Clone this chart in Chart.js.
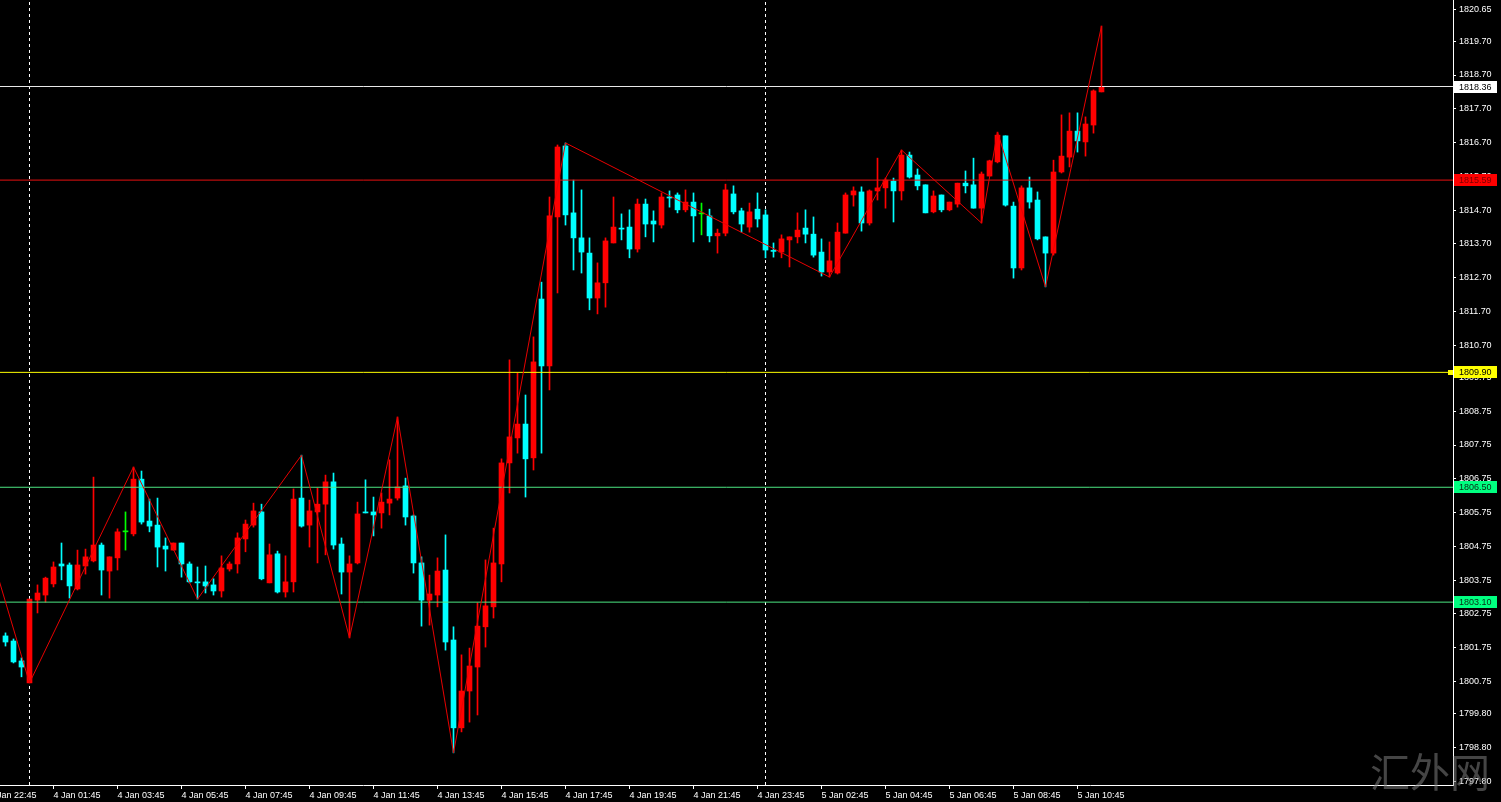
<!DOCTYPE html>
<html><head><meta charset="utf-8">
<style>html,body{margin:0;padding:0;background:#000;overflow:hidden}canvas{display:block}</style>
<script src="https://cdn.jsdelivr.net/npm/chart.js@4.4.1/dist/chart.umd.min.js"></script>
</head><body>
<canvas id="c" width="1501" height="802"></canvas>
<script>
// ---- data (15-minute XAUUSD bars; bar index 0 = 4 Jan 01:00) ----
const FIRST_BAR = -3;
const opens = [1802.10,1801.95,1801.36,
1800.71,1803.16,1803.31,1803.64,1804.23,1804.20,1803.49,1804.17,1804.32,1804.79,
1804.02,1804.41,1805.18,1805.12,1806.74,1805.50,1805.38,1804.76,1804.64,1804.85,
1804.23,1803.70,1803.70,1803.61,1803.43,1804.08,1804.23,1804.97,1805.38,1805.77,
1803.67,1804.53,1803.40,1803.70,1806.18,1805.38,1805.77,1806.00,1806.66,1804.82,
1803.99,1804.26,1805.77,1805.77,1805.74,1806.03,1806.18,1806.54,1805.65,1804.26,
1803.16,1803.31,1804.05,1801.98,1799.38,1800.47,1801.18,1802.37,1802.96,1804.23,
1807.22,1807.96,1808.37,1807.37,1812.07,1810.09,1814.50,1816.60,1814.62,1813.88,
1813.43,1812.10,1812.55,1813.73,1814.17,1814.20,1813.55,1814.88,1814.38,1814.26,
1815.09,1815.15,1814.71,1814.94,1814.59,1814.53,1813.94,1814.02,1815.18,1814.68,
1814.20,1814.73,1814.56,1813.51,1813.46,1813.82,1813.91,1814.17,1813.99,1813.46,
1812.87,1812.84,1814.02,1815.15,1815.24,1814.32,1815.27,1815.36,1815.56,1815.27,
1816.33,1815.74,1815.45,1814.65,1815.15,1814.71,1814.88,1815.50,1815.45,1814.76,
1815.71,1816.13,1816.90,1814.82,1812.99,1815.36,1815.00,1813.91,1813.43,1815.83,
1816.27,1817.04,1816.72,1817.22,1818.20];
const highs = [1802.19,1802.01,1801.45,
1803.19,1803.61,1803.84,1804.29,1804.85,1804.26,1804.64,1804.67,1806.80,1804.85,
1804.44,1805.27,1805.77,1807.10,1806.98,1806.15,1806.18,1805.00,1804.85,1804.85,
1804.29,1804.14,1804.17,1803.79,1804.47,1804.29,1805.15,1805.53,1806.03,1806.00,
1804.82,1804.61,1804.47,1806.45,1807.45,1806.12,1806.48,1806.86,1806.92,1805.00,
1804.47,1806.06,1806.72,1806.21,1806.33,1807.31,1808.58,1806.77,1805.68,1804.44,
1803.90,1804.41,1805.09,1802.37,1801.54,1801.74,1803.08,1804.35,1805.29,1807.34,
1810.27,1809.88,1809.23,1810.95,1812.57,1815.09,1816.63,1816.69,1815.59,1815.30,
1813.88,1813.14,1813.88,1815.09,1814.59,1814.71,1815.03,1815.03,1814.68,1815.21,
1815.27,1815.21,1815.30,1815.21,1814.91,1814.73,1814.14,1815.47,1815.42,1814.76,
1814.91,1815.21,1814.71,1813.73,1813.97,1813.91,1814.62,1814.71,1814.50,1813.85,
1813.76,1814.32,1815.21,1815.39,1815.39,1815.30,1816.24,1815.65,1815.65,1816.48,
1816.42,1815.92,1815.45,1815.27,1815.15,1814.94,1815.50,1815.86,1816.24,1815.83,
1816.18,1817.01,1816.90,1814.94,1815.42,1815.68,1815.24,1813.91,1816.18,1817.52,
1817.58,1817.58,1817.46,1818.26,1820.15];
const lows = [1801.80,1801.30,1800.89,
1800.71,1802.78,1803.10,1803.55,1803.76,1803.22,1803.46,1803.93,1804.29,1803.31,
1803.22,1804.05,1804.64,1805.06,1805.41,1805.18,1804.14,1804.02,1804.64,1803.84,
1803.67,1803.19,1803.37,1803.31,1803.25,1804.02,1803.96,1804.59,1805.32,1803.76,
1803.67,1803.37,1803.25,1803.40,1805.32,1804.73,1804.26,1804.50,1804.67,1803.34,
1802.04,1804.23,1805.74,1805.06,1805.29,1805.68,1806.12,1805.38,1803.96,1802.39,
1802.42,1802.96,1801.68,1798.64,1799.26,1799.55,1799.76,1801.77,1802.63,1803.70,
1806.33,1807.51,1806.21,1807.01,1807.51,1809.38,1812.25,1814.26,1812.93,1812.84,
1811.75,1811.63,1811.83,1813.73,1813.82,1813.29,1813.46,1813.91,1813.76,1814.17,
1814.79,1814.62,1814.65,1813.76,1813.97,1813.76,1813.43,1813.94,1814.59,1814.05,
1814.05,1814.20,1813.29,1813.31,1813.29,1813.02,1813.73,1813.73,1813.31,1812.75,
1812.72,1812.81,1814.02,1814.82,1814.08,1814.26,1815.00,1814.76,1814.35,1815.00,
1815.65,1815.30,1814.62,1814.62,1814.65,1814.68,1814.79,1815.21,1814.76,1814.32,
1815.71,1816.10,1814.82,1812.69,1812.93,1814.76,1813.82,1812.43,1813.37,1815.80,
1815.98,1816.42,1816.30,1816.98,1818.20];
const closes = [1801.92,1801.33,1801.18,
1803.19,1803.37,1803.81,1804.14,1804.17,1803.58,1804.20,1804.44,1804.79,1804.05,
1804.44,1805.18,1805.18,1806.74,1805.47,1805.35,1804.73,1804.67,1804.85,1804.23,
1803.70,1803.67,1803.58,1803.43,1804.11,1804.23,1805.00,1805.41,1805.80,1803.79,
1804.50,1803.40,1803.70,1806.15,1805.35,1805.80,1806.00,1806.66,1804.79,1803.99,
1804.23,1805.71,1805.74,1805.68,1806.06,1806.15,1806.51,1805.62,1804.26,1803.16,
1803.34,1804.02,1801.92,1799.38,1800.47,1801.21,1802.39,1802.99,1804.26,1807.22,
1807.99,1808.37,1807.34,1810.21,1810.09,1814.53,1816.57,1814.56,1813.88,1813.46,
1812.10,1812.55,1813.79,1814.20,1814.14,1813.55,1814.88,1814.29,1814.29,1815.09,
1815.06,1814.71,1814.94,1814.53,1814.59,1813.94,1814.02,1815.30,1814.65,1814.29,
1814.65,1814.44,1813.52,1813.48,1813.85,1813.91,1814.11,1813.99,1813.37,1812.87,
1813.20,1814.05,1815.15,1815.27,1814.32,1815.27,1815.36,1815.59,1815.27,1816.33,
1815.68,1815.42,1814.62,1815.12,1814.71,1814.94,1815.50,1815.42,1814.76,1815.77,
1816.16,1816.92,1814.85,1812.99,1815.36,1814.94,1813.85,1813.43,1815.83,1816.30,
1817.04,1816.75,1817.25,1818.23,1818.36];

const timeTickBars = [-5,3,11,19,27,35,43,51,59,67,75,83,91,99,107,115,123,131];
const timeTickLabels = ['3 Jan 22:45','4 Jan 01:45','4 Jan 03:45','4 Jan 05:45','4 Jan 07:45',
  '4 Jan 09:45','4 Jan 11:45','4 Jan 13:45','4 Jan 15:45','4 Jan 17:45','4 Jan 19:45',
  '4 Jan 21:45','4 Jan 23:45','5 Jan 02:45','5 Jan 04:45','5 Jan 06:45','5 Jan 08:45','5 Jan 10:45'];
const priceTicks = [1820.65,1819.70,1818.70,1817.70,1816.70,1815.70,1814.70,1813.70,1812.70,
  1811.70,1810.70,1809.75,1808.75,1807.75,1806.75,1805.75,1804.75,1803.75,1802.75,1801.75,
  1800.75,1799.80,1798.80,1797.80];
const zigzagBars = [-5,0,13,21,34,40,46,53,67,100,109,119,121,127,134,134];
const zigzagPrices = [1804.70,1800.71,1807.10,1803.19,1807.45,1802.04,1808.58,1798.64,1816.69,
  1812.72,1816.48,1814.32,1817.01,1812.43,1820.15,1818.36];
const daySeparatorBars = [0, 92];
const levelPrices = [1818.36, 1815.59, 1809.90, 1806.50, 1803.10];

// ---- styles ----
const levelLineColors = ['#e8e8e8', '#e81010', '#ffff00', '#4ce682', '#4ce682'];
const levelBoxColors  = ['#ffffff', '#ff0000', '#ffff00', '#00ff80', '#00ff80'];
const levelTextColors = ['#000000', '#7a0000', '#000000', '#0a2a14', '#0a2a14'];
const UP = '#ff0000', DOWN = '#00ffff', DOJI = '#00ff00';
const X_MIN = -3.6875, X_MAX = X_MIN + 1453 / 8;
const Y_MAX = 1820.92, Y_MIN = Y_MAX - 785 / 33.79;
const FONT = {family: 'Liberation Sans', size: 9};

const barIdx = opens.map((_, k) => FIRST_BAR + k);
const candleColor = opens.map((o, k) => closes[k] > o ? UP : (closes[k] < o ? DOWN : DOJI));

const datasets = [];
datasets.push({
  type: 'bar', label: 'wicks', order: 5,
  data: barIdx.map((x, k) => ({x, y: [lows[k], highs[k]]})),
  backgroundColor: candleColor, barThickness: 1, grouped: false, borderWidth: 0
});
datasets.push({
  type: 'bar', label: 'bodies', order: 4,
  data: barIdx.map((x, k) => ({x, y: [opens[k], closes[k]]})),
  backgroundColor: candleColor, barThickness: 5, grouped: false, borderWidth: 0, minBarLength: 1
});
daySeparatorBars.forEach(b => datasets.push({
  type: 'line', order: 9, data: [{x: b, y: Y_MIN}, {x: b, y: Y_MAX}],
  borderColor: '#ffffff', borderWidth: 1, borderDash: [3, 3], pointRadius: 0
}));
levelPrices.forEach((p, k) => datasets.push({
  type: 'line', order: 2, data: [{x: X_MIN, y: p}, {x: X_MAX, y: p}],
  borderColor: levelLineColors[k], borderWidth: 1, pointRadius: 0
}));
datasets.push({
  type: 'line', order: 1, label: 'zigzag',
  data: zigzagBars.map((x, k) => ({x, y: zigzagPrices[k]})),
  borderColor: '#e80000', borderWidth: 1, pointRadius: 0, tension: 0
});

const bgPlugin = {
  id: 'bg',
  beforeDraw(c) { const ctx = c.ctx; ctx.save(); ctx.fillStyle = '#000'; ctx.fillRect(0, 0, c.width, c.height); ctx.restore(); }
};
const overlayPlugin = {
  id: 'overlay',
  afterDraw(c) {
    const ctx = c.ctx, ys = c.scales.y, area = c.chartArea;
    ctx.save();
    levelPrices.forEach((p, k) => {
      const py = Math.round(ys.getPixelForValue(p));
      ctx.fillStyle = levelBoxColors[k];
      ctx.fillRect(area.right + 1, py - 6, 43, 12);
      if (k === 2) ctx.fillRect(area.right - 5, py - 2, 5, 5);
      ctx.fillStyle = levelTextColors[k];
      ctx.font = '9px "Liberation Sans"';
      ctx.textBaseline = 'middle';
      ctx.textAlign = 'left';
      ctx.fillText(p.toFixed(2), area.right + 6, py + 0.5);
    });
    ctx.font = '40px "Noto Sans CJK SC"';
    ctx.fillStyle = 'rgba(125,125,125,0.55)';
    ctx.textBaseline = 'middle';
    ctx.fillText('汇外网', 1370, 772);
    ctx.restore();
  }
};

new Chart(document.getElementById('c'), {
  type: 'bar',
  data: {datasets},
  plugins: [bgPlugin, overlayPlugin],
  options: {
    responsive: false, animation: false, devicePixelRatio: 1, events: [],
    layout: {padding: 0},
    plugins: {legend: {display: false}, tooltip: {enabled: false}},
    scales: {
      x: {
        type: 'linear', min: X_MIN, max: X_MAX, offset: false,
        grid: {display: true, drawOnChartArea: false, drawTicks: true, tickLength: 4, color: '#ffffff', offset: false},
        border: {display: true, color: '#ffffff', width: 1},
        ticks: {color: '#ffffff', font: FONT, align: 'start', padding: 1, maxRotation: 0, autoSkip: false,
                callback: (v, i) => timeTickLabels[i]},
        afterBuildTicks: s => { s.ticks = timeTickBars.map(v => ({value: v})); },
        afterFit: s => { s.height = 17; s.paddingLeft = 0; s.paddingRight = 0; }
      },
      y: {
        type: 'linear', position: 'right', min: Y_MIN, max: Y_MAX, beginAtZero: false,
        grid: {display: true, drawOnChartArea: false, drawTicks: true, tickLength: 3, color: '#ffffff'},
        border: {display: true, color: '#ffffff', width: 1},
        ticks: {color: '#ffffff', font: FONT, padding: 3, autoSkip: false, callback: v => Number(v).toFixed(2)},
        afterBuildTicks: s => { s.ticks = priceTicks.map(v => ({value: v})); },
        afterFit: s => { s.width = 48; s.paddingTop = 0; s.paddingBottom = 0; }
      }
    }
  }
});
</script>
</body></html>
